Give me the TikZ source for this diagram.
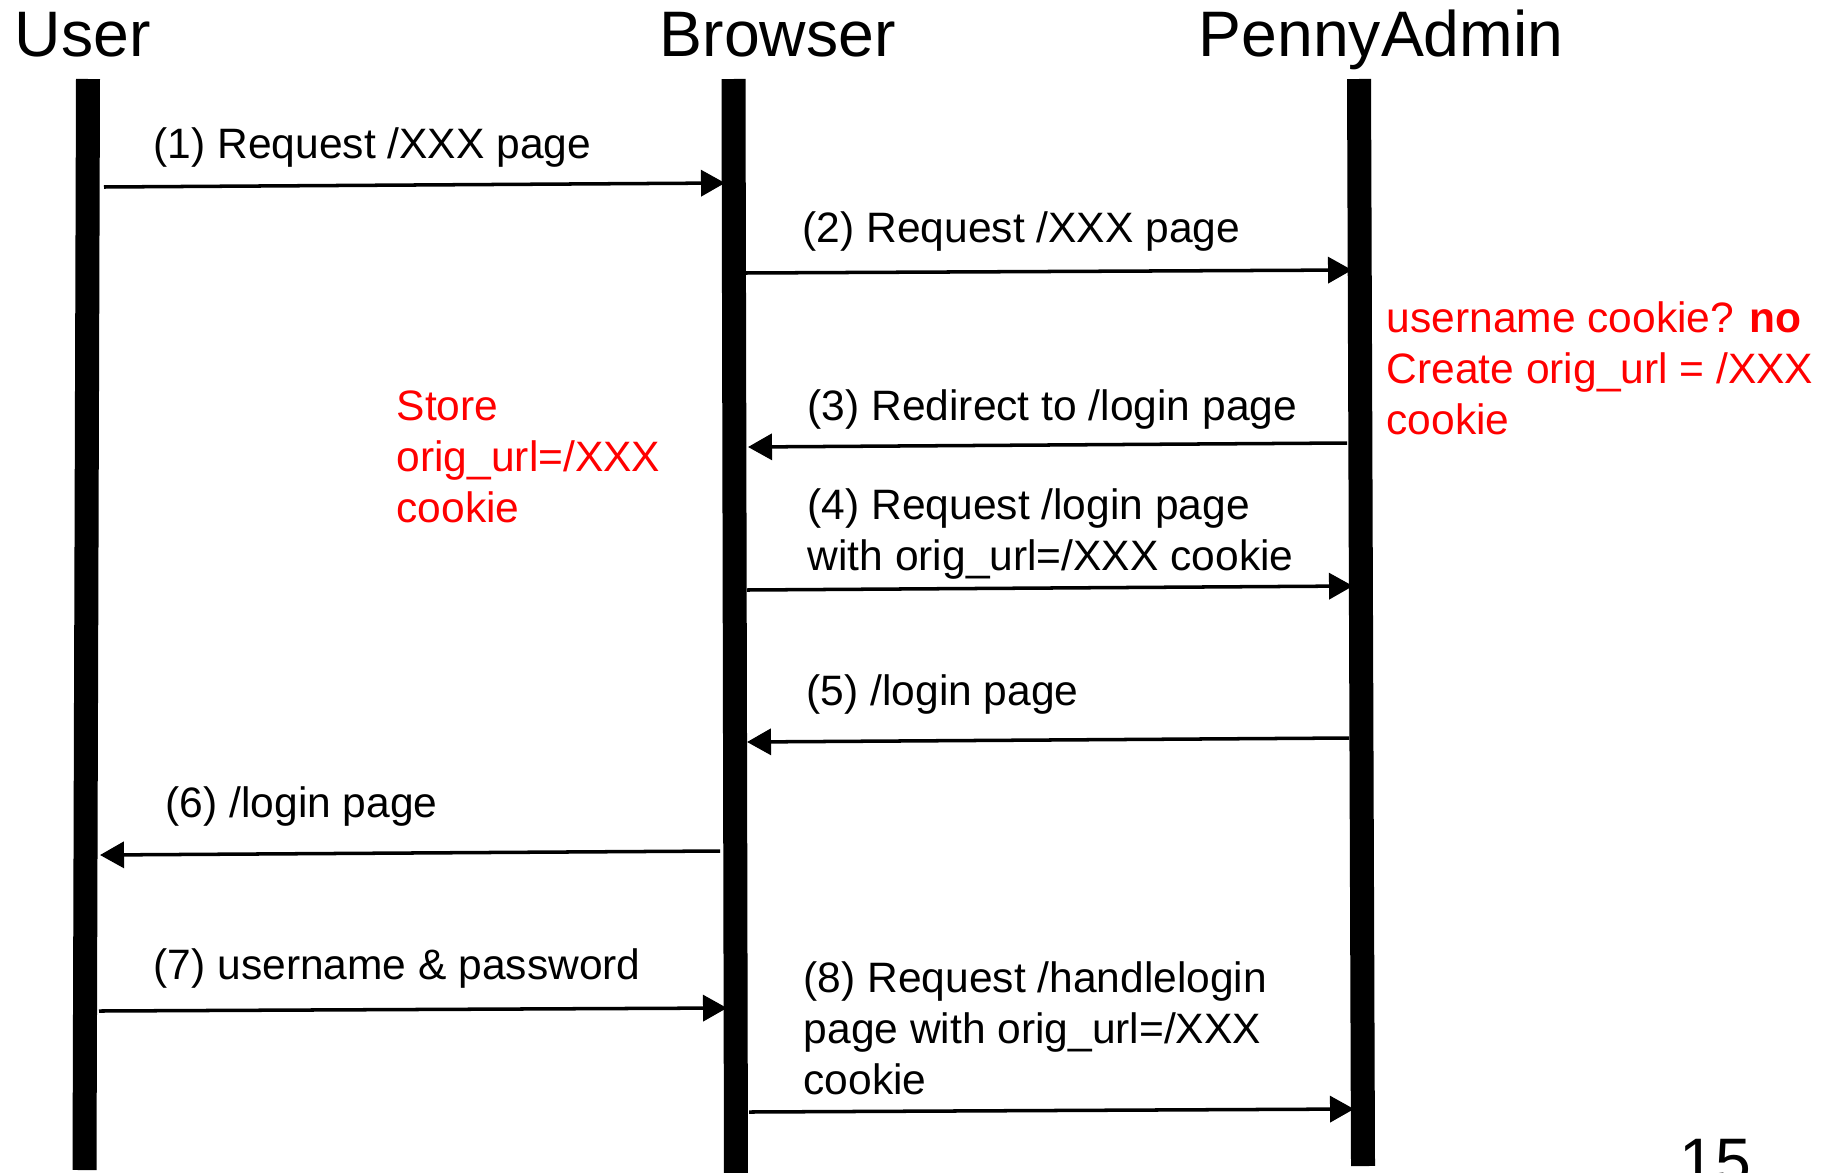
\documentclass[tikz,border=0pt]{standalone}
\usepackage{fontspec}
\setmainfont{Liberation Sans}
\usetikzlibrary{arrows.meta}
\definecolor{notered}{HTML}{FF0000}

\begin{document}
\begin{tikzpicture}[
  font=\fontsize{12.1}{14.4}\selectfont,
  actor/.style={anchor=base west,inner sep=0pt,font=\fontsize{18.3}{22}\selectfont},
  lifeline/.style={line width=2.4mm},
  msg/.style={line width=1pt,-{Triangle[length=2.4mm,width=2.6mm]}},
  lbl/.style={anchor=base west,inner sep=0pt,align=left},
  note/.style={lbl,text=notered},
]
\useasboundingbox (0,0) rectangle (18.31,-11.72);

% actors
\node[actor] (user) at (0.14,-0.56) {User};
\node[actor] (browser) at (6.59,-0.56) {Browser};
\node[actor] (penny) at (11.98,-0.56) {PennyAdmin};

% lifelines (a little off vertical)
\coordinate (userTop) at (0.88,-0.79);
\coordinate (userBot) at (0.845,-11.70);
\coordinate (browserTop) at (7.335,-0.79);
\coordinate (browserBot) at (7.36,-11.80);
\coordinate (pennyTop) at (13.59,-0.79);
\coordinate (pennyBot) at (13.63,-11.66);
\draw[lifeline] (userTop) -- (userBot);
\draw[lifeline] (browserTop) -- (browserBot);
\draw[lifeline] (pennyTop) -- (pennyBot);

% messages
\coordinate (m1a) at (1.04,-1.87);  \coordinate (m1b) at (7.25,-1.83);
\coordinate (m2a) at (7.45,-2.73);  \coordinate (m2b) at (13.52,-2.70);
\coordinate (m3a) at (13.47,-4.43); \coordinate (m3b) at (7.48,-4.47);
\coordinate (m4a) at (7.47,-5.90);  \coordinate (m4b) at (13.53,-5.86);
\coordinate (m5a) at (13.49,-7.38); \coordinate (m5b) at (7.47,-7.42);
\coordinate (m6a) at (7.20,-8.51);  \coordinate (m6b) at (1.00,-8.55);
\coordinate (m7a) at (0.99,-10.11); \coordinate (m7b) at (7.27,-10.08);
\coordinate (m8a) at (7.49,-11.12); \coordinate (m8b) at (13.54,-11.09);

\draw[msg] (m1a) -- (m1b);
\draw[msg] (m2a) -- (m2b);
\draw[msg] (m3a) -- (m3b);
\draw[msg] (m4a) -- (m4b);
\draw[msg] (m5a) -- (m5b);
\draw[msg] (m6a) -- (m6b);
\draw[msg] (m7a) -- (m7b);
\draw[msg] (m8a) -- (m8b);

% message labels (base = last line)
\node[lbl] (l1) at (1.53,-1.58) {(1) Request /XXX page};
\node[lbl] (l2) at (8.02,-2.42) {(2) Request /XXX page};
\node[lbl] (l3) at (8.07,-4.20) {(3) Redirect to /login page};
\node[lbl] (l4) at (8.07,-5.70) {(4) Request /login page\\with orig\_url=/XXX cookie};
\node[lbl] (l5) at (8.06,-7.05) {(5) /login page};
\node[lbl] (l6) at (1.65,-8.17) {(6) /login page};
\node[lbl] (l7) at (1.53,-9.79) {(7) username \& password};
\node[lbl] (l8) at (8.03,-10.94) {(8) Request /handlelogin\\page with orig\_url=/XXX\\cookie};

% notes
\node[note] (store) at (3.96,-5.22) {Store\\orig\_url=/XXX\\cookie};
\node[note] (check) at (13.86,-4.34) {username cookie? \textbf{no}\\Create orig\_url = /XXX\\cookie};

% slide number
\node[actor] (pageno) at (16.79,-11.83) {15};
\end{tikzpicture}
\end{document}
